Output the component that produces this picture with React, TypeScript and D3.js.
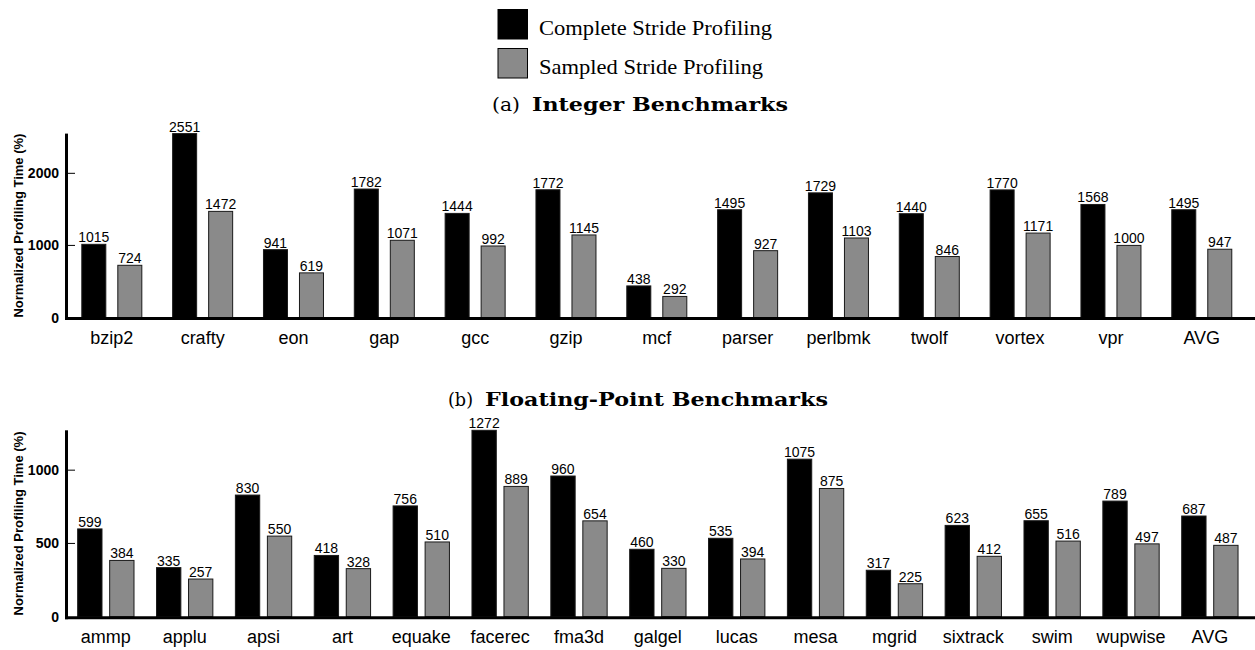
import React from "react";
import * as d3 from "d3";

const intBenchmarks = ["bzip2", "crafty", "eon", "gap", "gcc", "gzip", "mcf", "parser", "perlbmk", "twolf", "vortex", "vpr", "AVG"];
const intComplete = [1015, 2551, 941, 1782, 1444, 1772, 438, 1495, 1729, 1440, 1770, 1568, 1495];
const intSampled = [724, 1472, 619, 1071, 992, 1145, 292, 927, 1103, 846, 1171, 1000, 947];
const intTicks = [0, 1000, 2000];

const fpBenchmarks = ["ammp", "applu", "apsi", "art", "equake", "facerec", "fma3d", "galgel", "lucas", "mesa", "mgrid", "sixtrack", "swim", "wupwise", "AVG"];
const fpComplete = [599, 335, 830, 418, 756, 1272, 960, 460, 535, 1075, 317, 623, 655, 789, 687];
const fpSampled = [384, 257, 550, 328, 510, 889, 654, 330, 394, 875, 225, 412, 516, 497, 487];
const fpTicks = [0, 500, 1000];

const seriesNames = ["Complete Stride Profiling", "Sampled Stride Profiling"];
const seriesColors = ["#000000", "#8a8a8a"];

const SANS = "'Liberation Sans', Arial, Helvetica, sans-serif";

interface PanelProps {
  names: string[];
  complete: number[];
  sampled: number[];
  ticks: number[];
  top: number;
  bottom: number;
  right: number;
  padIn: number;
  padOut: number;
}

function Panel({ names, complete, sampled, ticks, top, bottom, right, padIn, padOut }: PanelProps) {
  const left = 66.4;
  const x0 = d3.scaleBand<string>().domain(names).range([left, right]).padding(0);
  const x1 = d3
    .scaleBand<string>()
    .domain(["c", "s"])
    .range([0, x0.bandwidth()])
    .paddingInner(padIn)
    .paddingOuter(padOut);
  const maxV = d3.max(complete.concat(sampled)) as number;
  const y = d3.scaleLinear().domain([0, maxV]).range([bottom, top]);

  const rows = names.map((n, i) => ({ n, vals: [complete[i], sampled[i]] }));

  return (
    <g>
      {rows.map((r) =>
        r.vals.map((v, j) => {
          const bx = (x0(r.n) as number) + (x1(j === 0 ? "c" : "s") as number);
          const bw = x1.bandwidth();
          return (
            <g key={r.n + j}>
              <rect
                x={bx}
                y={y(v)}
                width={bw}
                height={bottom - y(v)}
                fill={seriesColors[j]}
                stroke="#1a1a1a"
                strokeWidth={1}
              />
              <text
                x={bx + bw / 2}
                y={y(v) - 2}
                textAnchor="middle"
                fontFamily={SANS}
                fontSize={14}
                fill="#000"
              >
                {v}
              </text>
            </g>
          );
        })
      )}
      {/* axes */}
      <line x1={66.5} x2={66.5} y1={y(maxV)} y2={bottom + 2.5} stroke="#000" strokeWidth={3} />
      <line x1={65} x2={1255} y1={bottom + 1} y2={bottom + 1} stroke="#000" strokeWidth={3} />
      {ticks.map((t) => (
        <g key={t}>
          {t > 0 && <line x1={68} x2={75} y1={y(t)} y2={y(t)} stroke="#000" strokeWidth={1} />}
          <text
            x={59}
            y={y(t)}
            dy="0.36em"
            textAnchor="end"
            fontFamily={SANS}
            fontWeight="bold"
            fontSize={14}
          >
            {t}
          </text>
        </g>
      ))}
      {names.map((n) => (
        <text
          key={n}
          x={(x0(n) as number) + x0.bandwidth() / 2}
          y={bottom + 26}
          textAnchor="middle"
          fontFamily={SANS}
          fontSize={18}
        >
          {n}
        </text>
      ))}
      <text
        transform={`translate(22.5,${(y(maxV) + bottom) / 2}) rotate(-90)`}
        textAnchor="middle"
        fontFamily={SANS}
        fontWeight="bold"
        fontSize={13}
      >
        Normalized Profiling Time (%)
      </text>
    </g>
  );
}

export default function App() {
  return (
    <svg
      width={1255}
      height={650}
      style={{ position: "absolute", left: 0, top: 0, background: "#fff" }}
    >
      {/* legend */}
      {seriesNames.map((s, i) => (
        <g key={s}>
          <rect
            x={498}
            y={9.5 + i * 39}
            width={29.5}
            height={29.5}
            fill={seriesColors[i]}
            stroke="#000"
            strokeWidth={1}
          />
          <text
            x={539}
            y={35 + i * 39}
            fontFamily="'Liberation Serif', 'Times New Roman', serif"
            fontSize={22}
            textLength={i === 0 ? 233 : 224}
            lengthAdjust="spacingAndGlyphs"
          >
            {s}
          </text>
        </g>
      ))}

      {/* captions */}
      <text x={492} y={111} fontFamily="'DejaVu Serif', serif" fontSize={19} textLength={28} lengthAdjust="spacingAndGlyphs">
        (a)
      </text>
      <text x={532} y={111} fontFamily="'DejaVu Serif', serif" fontWeight="bold" fontSize={19} textLength={256} lengthAdjust="spacingAndGlyphs">
        Integer Benchmarks
      </text>
      <text x={448} y={406} fontFamily="'DejaVu Serif', serif" fontSize={19} textLength={25} lengthAdjust="spacingAndGlyphs">
        (b)
      </text>
      <text x={485} y={406} fontFamily="'DejaVu Serif', serif" fontWeight="bold" fontSize={19} textLength={343} lengthAdjust="spacingAndGlyphs">
        Floating-Point Benchmarks
      </text>

      <Panel
        names={intBenchmarks}
        complete={intComplete}
        sampled={intSampled}
        ticks={intTicks}
        top={133.6}
        bottom={317.5}
        right={66.4 + 13 * 90.83}
        padIn={1 / 3}
        padOut={0.428}
      />
      <Panel
        names={fpBenchmarks}
        complete={fpComplete}
        sampled={fpSampled}
        ticks={fpTicks}
        top={430.3}
        bottom={616.7}
        right={66.4 + 15 * 78.86}
        padIn={0.24}
        padOut={0.352}
      />
    </svg>
  );
}
